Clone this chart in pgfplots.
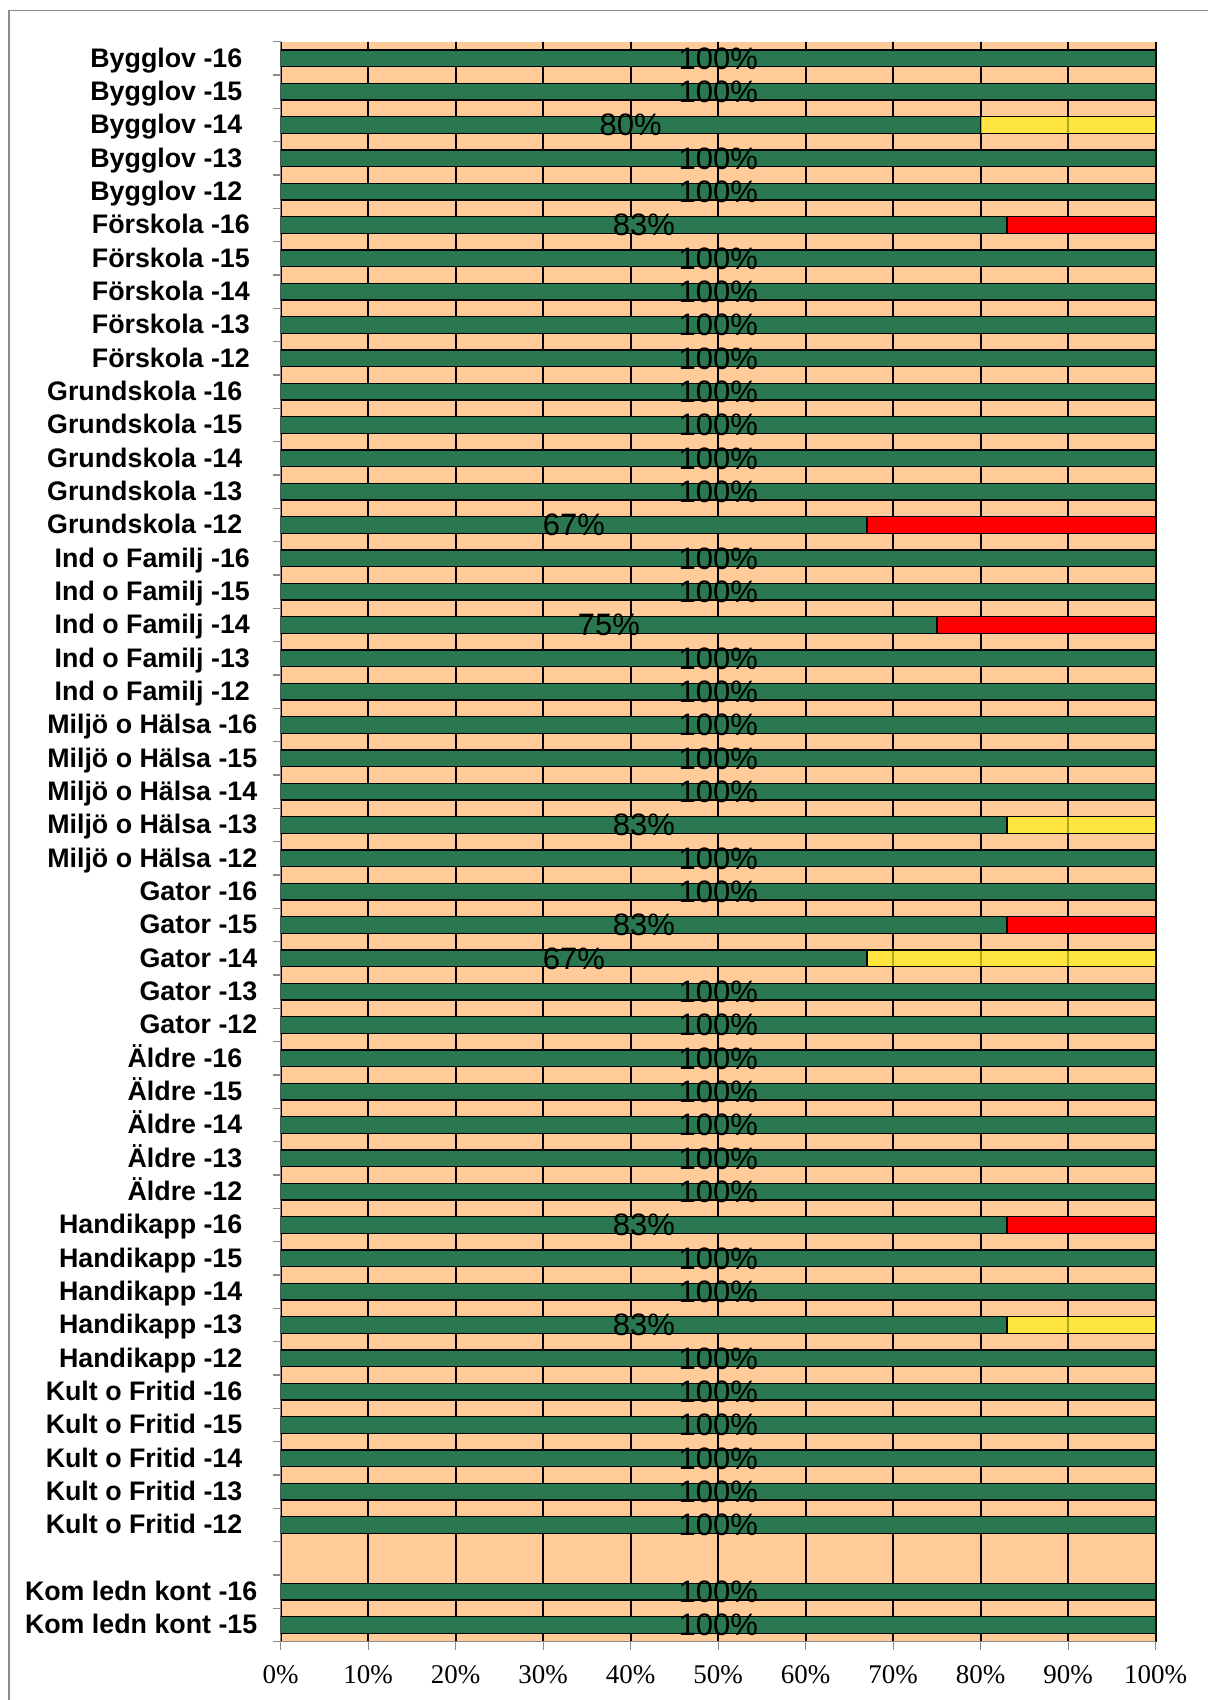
\documentclass[border=0pt]{standalone}
\usepackage{pgfplots}
\pgfplotsset{compat=1.18}
\usepackage{pgfplotstable}
\usepackage{fontspec}
\setmainfont{Liberation Sans}
\newfontfamily\tickfont{Liberation Serif}

\definecolor{barGreen}{HTML}{2A7850}
\definecolor{barRed}{HTML}{FF0000}
\definecolor{barYellow}{RGB}{255,241,26}
\definecolor{peach}{HTML}{FFCC99}
\definecolor{frameGray}{HTML}{8C8C8C}

% idx: row from the top; g: share met (green), r: not met (red), yl: partly met (yellow)
\pgfplotstableread{
idx g r yl
0 100 0 0
1 100 0 0
2 80 0 20
3 100 0 0
4 100 0 0
5 83 17 0
6 100 0 0
7 100 0 0
8 100 0 0
9 100 0 0
10 100 0 0
11 100 0 0
12 100 0 0
13 100 0 0
14 67 33 0
15 100 0 0
16 100 0 0
17 75 25 0
18 100 0 0
19 100 0 0
20 100 0 0
21 100 0 0
22 100 0 0
23 83 0 17
24 100 0 0
25 100 0 0
26 83 17 0
27 67 0 33
28 100 0 0
29 100 0 0
30 100 0 0
31 100 0 0
32 100 0 0
33 100 0 0
34 100 0 0
35 83 17 0
36 100 0 0
37 100 0 0
38 83 0 17
39 100 0 0
40 100 0 0
41 100 0 0
42 100 0 0
43 100 0 0
44 100 0 0
46 100 0 0
47 100 0 0
}\results

% trailing gaps after some category names
\newcommand{\padA}{\kern3.75pt}
\newcommand{\padB}{\kern7.5pt}

\begin{document}
\begin{tikzpicture}[x=1pt,y=1pt]
\useasboundingbox (0,0) rectangle (604,850);
\draw[frameGray, line width=0.7pt] (4.5,-10) -- (4.5,844.65) -- (620,844.65);
\begin{axis}[
  at={(140.35pt,29.15pt)}, anchor=south west,
  scale only axis, width=437.5pt, height=800pt,
  xbar stacked, bar width=8.33pt,
  xmin=0, xmax=100, ymin=-0.5, ymax=47.5, y dir=reverse,
  axis background/.style={fill=peach},
  axis x line*=bottom, axis y line*=left,
  axis line style={draw=frameGray, line width=0.7pt, -},
  xtick={0,10,...,100},
  xticklabel={\tickfont\pgfmathprintnumber{\tick}\%},
  /pgf/number format/assume math mode=true,
  xticklabel style={font=\fontsize{13.5}{14}\selectfont, inner sep=0pt, yshift=-7.5pt},
  xmajorgrids, major grid style={black, line width=0.8pt},
  tick align=outside, major tick length=4pt, minor tick length=4pt,
  xtick pos=bottom, ytick pos=left,
  every major x tick/.style={frameGray, line width=0.7pt},
  every major y tick/.style={draw=none},
  every minor y tick/.style={frameGray, line width=0.7pt},
  ytick={0,...,47},
  minor ytick={-0.5,0.5,...,47.5},
  yticklabels={
    {Bygglov -16\padB},{Bygglov -15\padB},{Bygglov -14\padB},{Bygglov -13\padB},{Bygglov -12\padB},
    {Förskola -16\padA},{Förskola -15\padA},{Förskola -14\padA},{Förskola -13\padA},{Förskola -12\padA},
    {Grundskola -16\padB},{Grundskola -15\padB},{Grundskola -14\padB},{Grundskola -13\padB},{Grundskola -12\padB},
    {Ind o Familj -16\padA},{Ind o Familj -15\padA},{Ind o Familj -14\padA},{Ind o Familj -13\padA},{Ind o Familj -12\padA},
    {Miljö o Hälsa -16},{Miljö o Hälsa -15},{Miljö o Hälsa -14},{Miljö o Hälsa -13},{Miljö o Hälsa -12},
    {Gator -16},{Gator -15},{Gator -14},{Gator -13},{Gator -12},
    {Äldre -16\padB},{Äldre -15\padB},{Äldre -14\padB},{Äldre -13\padB},{Äldre -12\padB},
    {Handikapp -16\padB},{Handikapp -15\padB},{Handikapp -14\padB},{Handikapp -13\padB},{Handikapp -12\padB},
    {Kult o Fritid -16\padB},{Kult o Fritid -15\padB},{Kult o Fritid -14\padB},{Kult o Fritid -13\padB},{Kult o Fritid -12\padB},
    {},
    {Kom ledn kont -16},{Kom ledn kont -15}},
  yticklabel style={font=\fontsize{13.4}{13.4}\selectfont\bfseries, anchor=east, inner sep=0pt,
    text height=0.73em, text depth=0pt, xshift=-7.5pt, yshift=-0.8pt},
  every axis plot/.append style={draw=black, line width=0.75pt},
]
% green share, labelled at the middle of its segment
\addplot[fill=barGreen,
  point meta=x,
  nodes near coords={\pgfmathprintnumber{\pgfplotspointmeta}\%},
  nodes near coords align=center,
  every node near coord/.append style={anchor=center,
    font=\fontsize{15.5}{16}\selectfont, text=black, inner sep=0pt}]
  table[x=g, y=idx]{\results};
\addplot[fill=barRed] table[x=r, y=idx]{\results};
% the yellow fill lets the grid show through faintly
\addplot[fill=barYellow, fill opacity=0.7] table[x=yl, y=idx]{\results};
\end{axis}
\end{tikzpicture}
\end{document}
